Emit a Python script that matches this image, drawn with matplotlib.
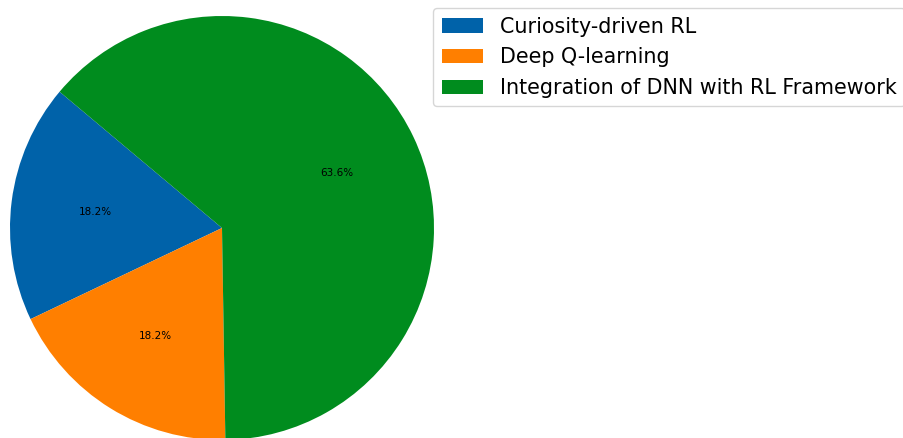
import matplotlib.pyplot as plt

# data
labels = ['Curiosity-driven RL', 'Deep Q-learning', 'Integration of DNN with RL Framework']
counts = [2, 2, 7]
colors = ['#0062a9', '#ff7f00', '#008c1e']

fig = plt.figure(figsize=(9.04, 4.38), dpi=100)

# pie axes placed so the circle sits at the left like the original crop
W, H = 904, 438
ax = fig.add_axes([10 / W, (438 - 440) / H, 424 / W, 424 / H])
wedges, texts, autotexts = ax.pie(counts, colors=colors, autopct='%1.1f%%',
                                  startangle=140, textprops={'fontsize': 7.5})
ax.set_xlim(-1, 1)
ax.set_ylim(-1, 1)
ax.set_aspect('equal')

# legend spills past the right edge, as in the cropped original
fig.legend(wedges, labels, loc='upper left', bbox_to_anchor=(423 / W, 1 + 2 / H),
           fontsize=14.9, labelspacing=0.52, handlelength=2.0, frameon=True)

plt.savefig('out.png', dpi=100)
